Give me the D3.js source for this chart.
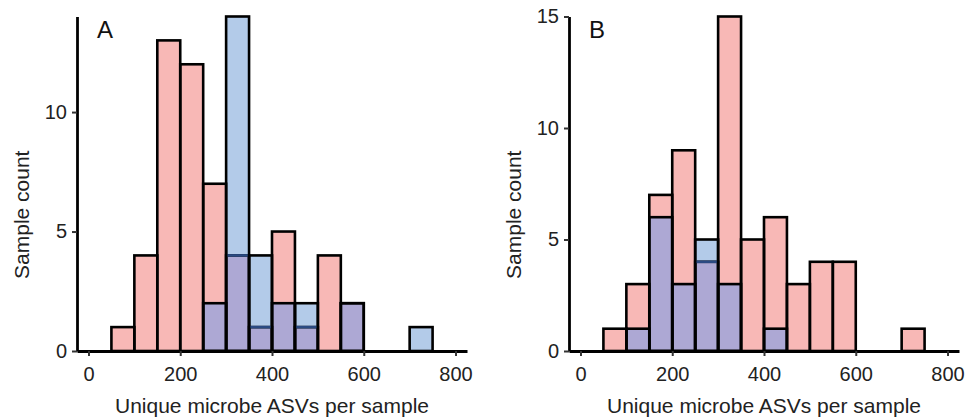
<!DOCTYPE html>
<html>
<head>
<meta charset="utf-8">
<script src="https://cdn.jsdelivr.net/npm/d3@7"></script>
<style>
  html, body { margin: 0; padding: 0; background: #fff; }
  svg { display: block; }
  text { font-family: 'Liberation Sans', Arial, Helvetica, sans-serif; }
</style>
</head>
<body>
<div id="chart"></div>
<script>
// histogram bins: width 50, lower edges
const BIN_WIDTH = 50
const binStarts = [50, 100, 150, 200, 250, 300, 350, 400, 450, 500, 550, 600, 650, 700]

// panel A counts
const aRed  = [1, 4, 13, 12, 7, 4, 1, 5, 1, 4, 2, 0, 0, 0]
const aBlue = [0, 0, 0, 0, 2, 14, 4, 2, 2, 0, 2, 0, 0, 1]

// panel B counts
const bRed  = [1, 3, 7, 9, 4, 15, 5, 6, 3, 4, 4, 0, 0, 1]
const bBlue = [0, 1, 6, 3, 5, 3, 0, 1, 0, 0, 0, 0, 0, 0]

const xTicks = [0, 200, 400, 600, 800]
const aYTicks = [0, 5, 10]
const bYTicks = [0, 5, 10, 15]

const COLORS = {
  red: '#f8b8b6',
  blue: '#b3cbe9',
  both: '#ada8d4',
  hidden: '#2b4a82',
}

const W = 967, H = 419
const svg = d3.select('#chart').append('svg').attr('width', W).attr('height', H)

function panel(opts) {
  const { left, right, top, bottom, yMax, red, blue, yTicks, letter } = opts
  const g = svg.append('g')

  const x = d3.scaleLinear().domain([-25, 825]).range([left, right])
  const y = d3.scaleLinear().domain([0, yMax]).range([bottom, top])

  const bins = binStarts.map((b, i) => ({ x0: b, x1: b + BIN_WIDTH, r: red[i], b: blue[i] }))

  // fills
  const fills = g.append('g')
  bins.forEach(d => {
    const lo = Math.min(d.r, d.b), hi = Math.max(d.r, d.b)
    if (lo > 0) {
      fills.append('rect')
        .attr('x', x(d.x0)).attr('width', x(d.x1) - x(d.x0))
        .attr('y', y(lo)).attr('height', y(0) - y(lo))
        .attr('fill', COLORS.both)
    }
    if (hi > lo) {
      fills.append('rect')
        .attr('x', x(d.x0)).attr('width', x(d.x1) - x(d.x0))
        .attr('y', y(hi)).attr('height', y(lo) - y(hi))
        .attr('fill', d.r > d.b ? COLORS.red : COLORS.blue)
    }
  })

  // outlines
  const lines = g.append('g').attr('fill', 'none').attr('stroke', '#000').attr('stroke-width', 2.6)
  bins.forEach(d => {
    for (const v of [d.r, d.b]) {
      if (v <= 0) continue
      lines.append('rect')
        .attr('x', x(d.x0)).attr('width', x(d.x1) - x(d.x0))
        .attr('y', y(v)).attr('height', y(0) - y(v))
    }
    // red top seen through the blue bar
    if (d.r > 0 && d.r < d.b) {
      g.append('line')
        .attr('x1', x(d.x0) + 1.3).attr('x2', x(d.x1) - 1.3)
        .attr('y1', y(d.r)).attr('y2', y(d.r))
        .attr('stroke', COLORS.hidden).attr('stroke-width', 2.6)
    }
  })

  // axes
  const xAxis = g.append('g')
    .attr('transform', `translate(0,${bottom})`)
    .call(d3.axisBottom(x).tickValues(xTicks).tickSize(5).tickSizeOuter(0).tickPadding(11))
  const yAxis = g.append('g')
    .attr('transform', `translate(${left},0)`)
    .call(d3.axisLeft(y).tickValues(yTicks).tickSize(5).tickSizeOuter(0).tickPadding(5))

  for (const ax of [xAxis, yAxis]) {
    ax.select('.domain').attr('stroke', '#000').attr('stroke-width', 2.8)
    ax.selectAll('.tick line').attr('stroke', '#333').attr('stroke-width', 2)
    ax.selectAll('.tick text')
      .attr('fill', '#222')
      .style('font-size', '20px')
      .style('font-family', "'Liberation Sans', Arial, sans-serif")
  }

  // titles
  g.append('text')
    .attr('x', (left + right) / 2).attr('y', 413)
    .attr('text-anchor', 'middle')
    .attr('fill', '#222').style('font-size', '21px')
    .text('Unique microbe ASVs per sample')

  g.append('text')
    .attr('transform', `translate(${left - 48.5},${(top + bottom) / 2 + 31}) rotate(-90)`)
    .attr('text-anchor', 'middle')
    .attr('fill', '#222').style('font-size', '21px')
    .text('Sample count')

  g.append('text')
    .attr('x', left + 20).attr('y', 38)
    .attr('fill', '#111').style('font-size', '24px')
    .text(letter)
}

panel({ left: 77, right: 467, top: 16.5, bottom: 351, yMax: 14, red: aRed, blue: aBlue, yTicks: aYTicks, letter: 'A' })
panel({ left: 569, right: 959, top: 16.5, bottom: 351, yMax: 15, red: bRed, blue: bBlue, yTicks: bYTicks, letter: 'B' })
</script>
</body>
</html>
